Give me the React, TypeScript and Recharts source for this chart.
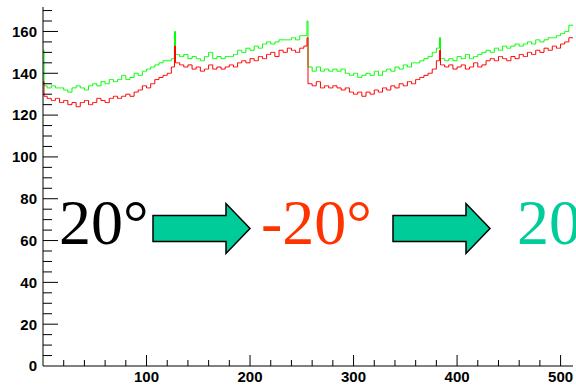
import React from 'react';
import { LineChart, Line, XAxis, YAxis } from 'recharts';

// Channel contents, one value per group of 4 bins (128 groups = 512 bins)
const greenGroups = [
  134, 133, 134, 133, 133, 132, 131, 133, 134, 133, 132, 134, 135, 134, 136, 135,
  137, 136, 137, 139, 137, 138, 140, 139, 141, 142, 143, 144, 145, 146, 146, 147,
  149, 148, 149, 147, 148, 147, 146, 148, 150, 147, 148, 147, 148, 148, 149, 151,
  150, 152, 151, 153, 152, 154, 155, 154, 155, 156, 156, 156, 157, 156, 158, 158,
  143, 141, 143, 141, 142, 141, 142, 141, 142, 140, 139, 140, 138, 139, 140, 139,
  141, 139, 141, 142, 141, 143, 142, 144, 143, 145, 145, 146, 147, 148, 150, 152,
  147, 146, 147, 146, 148, 147, 149, 147, 148, 149, 150, 151, 150, 152, 151, 153,
  152, 153, 154, 153, 154, 155, 154, 156, 155, 156, 157, 157, 158, 159, 160, 163,
];

const redGroups = [
  129, 128, 127, 128, 126, 127, 125, 126, 124, 126, 127, 125, 126, 128, 127, 126,
  128, 129, 128, 129, 130, 129, 131, 132, 134, 133, 135, 137, 138, 139, 140, 143,
  145, 144, 143, 144, 142, 143, 141, 142, 144, 142, 143, 142, 143, 144, 143, 145,
  146, 145, 147, 146, 148, 147, 149, 150, 148, 151, 150, 152, 151, 150, 152, 153,
  135, 134, 136, 133, 134, 133, 134, 133, 132, 133, 131, 130, 131, 129, 131, 130,
  132, 131, 133, 132, 134, 133, 135, 134, 136, 135, 137, 138, 139, 140, 142, 146,
  144, 143, 144, 142, 143, 144, 142, 143, 145, 143, 144, 146, 147, 146, 148, 147,
  146, 148, 147, 149, 148, 150, 149, 151, 150, 152, 151, 153, 152, 154, 155, 157,
];

// Single-bin spikes at the start of each temperature step
const spikeBins = [0, 127, 255, 383];
const greenSpikes = [151, 160, 165, 157];
const redSpikes = [136, 153, 157, 151];

const xTicks = [0, 20, 40, 60, 80, 100, 120, 140, 160, 180, 200, 220, 240, 260, 280, 300, 320, 340, 360, 380, 400, 420, 440, 460, 480, 500];
const yTicks = [0, 5, 10, 15, 20, 25, 30, 35, 40, 45, 50, 55, 60, 65, 70, 75, 80, 85, 90, 95, 100, 105, 110, 115, 120, 125, 130, 135, 140, 145, 150, 155, 160, 165, 170];

const NBINS = 512;
const GROUP = 4;

const rows: { bin: number; green: number; red: number }[] = [];
for (let b = 0; b <= NBINS; b++) {
  const gi = Math.min(Math.floor(b / GROUP), greenGroups.length - 1);
  let g = greenGroups[gi];
  let r = redGroups[gi];
  const s = spikeBins.indexOf(b);
  if (s >= 0) {
    g = greenSpikes[s];
    r = redSpikes[s];
  }
  rows.push({ bin: b, green: g, red: r });
}

const AXIS_FONT = '"Liberation Sans", Arial, Helvetica, sans-serif';

const XTick = (props: any) => {
  const { x, y, payload } = props;
  const v = payload.value as number;
  const major = v % 100 === 0;
  if (v === 0) return <g />;
  return (
    <g>
      <line x1={x} y1={y} x2={x} y2={y - (major ? 11 : 6)} stroke="#000" strokeWidth={1} />
      {major && (
        <text x={x} y={y + 16} textAnchor="middle" fontFamily={AXIS_FONT} fontWeight="bold" fontSize={15} fill="#000">
          {v}
        </text>
      )}
    </g>
  );
};

const YTick = (props: any) => {
  const { x, y, payload } = props;
  const v = payload.value as number;
  const major = v % 20 === 0;
  return (
    <g>
      {v !== 0 && <line x1={x} y1={y} x2={x + (major ? 15 : 9)} y2={y} stroke="#000" strokeWidth={1} />}
      {major && (
        <text x={x - 6} y={y} dy="0.36em" textAnchor="end" fontFamily={AXIS_FONT} fontWeight="bold" fontSize={15} fill="#000">
          {v}
        </text>
      )}
    </g>
  );
};

const arrowPoints = (x0: number, tip: number, cy: number) => {
  const headStart = tip - 24;
  return [
    [x0, cy - 13],
    [headStart, cy - 13],
    [headStart, cy - 25],
    [tip, cy],
    [headStart, cy + 25],
    [headStart, cy + 13],
    [x0, cy + 13],
  ]
    .map((p) => p.join(','))
    .join(' ');
};

const SERIF = '"Liberation Serif", "Times New Roman", Times, serif';
const TEAL = '#00CC99';

export default function App() {
  return (
    <div style={{ position: 'absolute', left: 0, top: 0, width: 576, height: 386, background: '#fff' }}>
      <LineChart width={576} height={386} data={rows} margin={{ top: 7, right: 3, left: 0, bottom: 0 }}>
        <XAxis
          dataKey="bin"
          type="number"
          domain={[0, NBINS]}
          ticks={xTicks}
          interval={0}
          height={20}
          tickSize={0}
          tickMargin={0}
          tickLine={false}
          axisLine={{ stroke: '#000', strokeWidth: 1 }}
          tick={<XTick />}
          allowDataOverflow
        />
        <YAxis
          type="number"
          domain={[0, 171.7]}
          ticks={yTicks}
          interval={0}
          width={43}
          tickSize={0}
          tickMargin={0}
          tickLine={false}
          axisLine={{ stroke: '#000', strokeWidth: 1 }}
          tick={<YTick />}
          allowDataOverflow
        />
        <Line type="stepAfter" dataKey="green" stroke="#00ff00" strokeWidth={1} dot={false} activeDot={false} isAnimationActive={false} />
        <Line type="stepAfter" dataKey="red" stroke="#ff0000" strokeWidth={1} dot={false} activeDot={false} isAnimationActive={false} />
      </LineChart>
      <svg width={576} height={386} style={{ position: 'absolute', left: 0, top: 0, pointerEvents: 'none' }}>
        <text x={59} y={244} fontFamily={SERIF} fontSize={64} fill="#000">20°</text>
        <polygon points={arrowPoints(153, 250, 228.5)} fill={TEAL} stroke="#000" strokeWidth={1.5} />
        <text x={261} y={244} fontFamily={SERIF} fontSize={64} fill="#FF3300">-20°</text>
        <polygon points={arrowPoints(393, 490, 228.5)} fill={TEAL} stroke="#000" strokeWidth={1.5} />
        <text x={517} y={244} fontFamily={SERIF} fontSize={64} fill={TEAL}>20°</text>
      </svg>
    </div>
  );
}
